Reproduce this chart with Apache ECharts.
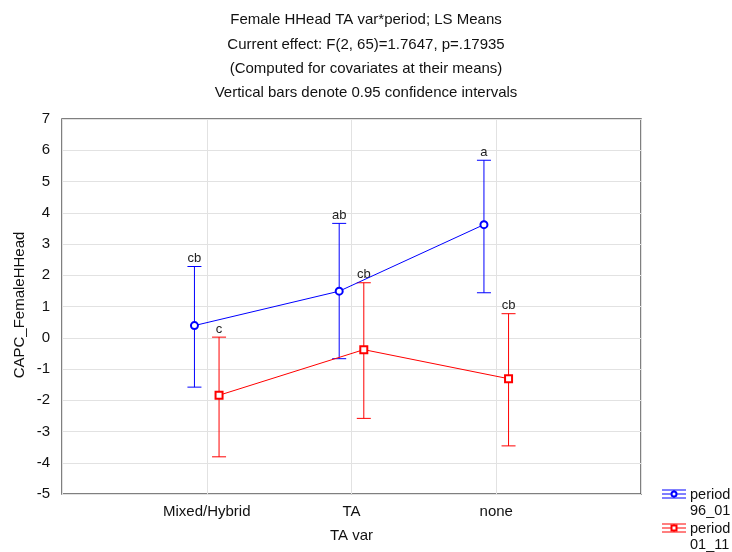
<!DOCTYPE html>
<html>
<head>
<meta charset="utf-8">
<script src="https://cdn.jsdelivr.net/npm/echarts@6/dist/echarts.min.js"></script>
<style>
  html, body { margin: 0; padding: 0; background: #fff; }
  #chart { width: 732px; height: 552px; }
</style>
</head>
<body>
<div id="chart"></div>
<script>
// TA var categories and y-axis ticks
var categories = ['Mixed/Hybrid', 'TA', 'none'];
var yTicks = [-5, -4, -3, -2, -1, 0, 1, 2, 3, 4, 5, 6, 7];
var yAxisTitle = 'CAPC_FemaleHHead';

// LS means with 0.95 confidence limits, period 96_01
var mean96 = [0.39, 1.49, 3.62];
var lower96 = [-1.58, -0.67, 1.44];
var upper96 = [2.28, 3.66, 5.68];
var letters96 = ['cb', 'ab', 'a'];

// LS means with 0.95 confidence limits, period 01_11
var mean01 = [-1.84, -0.38, -1.31];
var lower01 = [-3.81, -2.58, -3.46];
var upper01 = [0.02, 1.76, 0.77];
var letters01 = ['c', 'cb', 'cb'];

var BLUE = '#0000ff';
var RED = '#ff0000';
var FONT = 'Liberation Sans, Arial, sans-serif';
var DODGE = 0.085; // horizontal shift of each period around its category

function points(means, shift) {
  return means.map(function (v, i) { return [i + 1 + shift, v]; });
}
function bars(lows, highs, shift) {
  return lows.map(function (v, i) { return [i + 1 + shift, v, highs[i]]; });
}

function errorBarRenderer(color, letters) {
  return function (params, api) {
    var x = api.value(0);
    var lo = api.coord([x, api.value(1)]);
    var hi = api.coord([x, api.value(2)]);
    var half = 7;
    var style = { stroke: color, lineWidth: 1 };
    return {
      type: 'group',
      children: [
        { type: 'line', shape: { x1: lo[0], y1: lo[1], x2: hi[0], y2: hi[1] }, style: style },
        { type: 'line', shape: { x1: hi[0] - half, y1: hi[1], x2: hi[0] + half, y2: hi[1] }, style: style },
        { type: 'line', shape: { x1: lo[0] - half, y1: lo[1], x2: lo[0] + half, y2: lo[1] }, style: style },
        {
          type: 'text',
          style: {
            text: letters[params.dataIndex], x: hi[0], y: hi[1] - 8,
            align: 'center', verticalAlign: 'middle',
            font: '13px ' + FONT, fill: '#222'
          }
        }
      ]
    };
  };
}

function legendItem(y, color, symbol, line1, line2) {
  var x0 = 662, x1 = 686, cx = 674;
  var st = { stroke: color, lineWidth: 1 };
  var marker = symbol === 'circle'
    ? { type: 'circle', shape: { cx: cx, cy: y, r: 2.5 }, style: { fill: '#fff', stroke: color, lineWidth: 2 } }
    : { type: 'rect', shape: { x: cx - 2.5, y: y - 2.5, width: 5, height: 5 }, style: { fill: '#fff', stroke: color, lineWidth: 2 } };
  return {
    type: 'group',
    children: [
      { type: 'line', shape: { x1: x0, y1: y - 4, x2: x1, y2: y - 4 }, style: st },
      { type: 'line', shape: { x1: x0, y1: y, x2: x1, y2: y }, style: st },
      { type: 'line', shape: { x1: x0, y1: y + 4, x2: x1, y2: y + 4 }, style: st },
      { type: 'line', shape: { x1: cx, y1: y - 4, x2: cx, y2: y + 4 }, style: st },
      marker,
      { type: 'text', style: { text: line1 + '\n' + line2, x: 690, y: y - 7, font: '14.5px ' + FONT, fill: '#111', lineHeight: 16 } }
    ]
  };
}

var chart = echarts.init(document.getElementById('chart'));
chart.setOption({
  animation: false,
  backgroundColor: '#fff',
  title: {
    text: 'Female HHead TA var*period; LS Means\nCurrent effect: F(2, 65)=1.7647, p=.17935\n(Computed for covariates at their means)\nVertical bars denote 0.95 confidence intervals',
    left: 'center',
    top: 3,
    textStyle: { fontFamily: FONT, fontSize: 15, fontWeight: 'normal', color: '#111', lineHeight: 24.3, align: 'center' }
  },
  grid: {
    left: 62, right: 91, top: 119, bottom: 58,
    outerBoundsMode: 'none', containLabel: false,
    show: true, borderColor: '#555', borderWidth: 1.5, backgroundColor: 'transparent'
  },
  xAxis: {
    type: 'value', min: 0, max: 4, interval: 1,
    name: 'TA var', nameLocation: 'middle', nameGap: 34,
    nameTextStyle: { fontFamily: FONT, fontSize: 15, color: '#111' },
    axisLine: { show: false },
    axisTick: { show: false },
    axisLabel: {
      margin: 10, fontFamily: FONT, fontSize: 15, color: '#111',
      formatter: function (v) { return categories[v - 1] || ''; }
    },
    splitLine: { show: true, lineStyle: { color: '#e2e2e2', width: 1 } }
  },
  yAxis: {
    type: 'value', min: yTicks[0], max: yTicks[yTicks.length - 1], interval: 1,
    axisLine: { show: false },
    axisTick: { show: false },
    axisLabel: { margin: 12, fontFamily: FONT, fontSize: 15, color: '#111' },
    splitLine: { show: true, lineStyle: { color: '#e2e2e2', width: 1 } }
  },
  series: [
    {
      type: 'custom', name: 'period 96_01 CI',
      renderItem: errorBarRenderer(BLUE, letters96),
      data: bars(lower96, upper96, -DODGE), z: 2
    },
    {
      type: 'custom', name: 'period 01_11 CI',
      renderItem: errorBarRenderer(RED, letters01),
      data: bars(lower01, upper01, DODGE), z: 2
    },
    {
      type: 'line', name: 'period 96_01', data: points(mean96, -DODGE),
      symbol: 'circle', symbolSize: 7, showAllSymbol: true,
      lineStyle: { color: BLUE, width: 1 },
      itemStyle: { color: '#fff', borderColor: BLUE, borderWidth: 2 }, z: 3
    },
    {
      type: 'line', name: 'period 01_11', data: points(mean01, DODGE),
      symbol: 'rect', symbolSize: 7, showAllSymbol: true,
      lineStyle: { color: RED, width: 1 },
      itemStyle: { color: '#fff', borderColor: RED, borderWidth: 2 }, z: 3
    }
  ],
  graphic: [
    {
      type: 'text', x: 20, y: 305, rotation: Math.PI / 2,
      style: { text: yAxisTitle, align: 'center', verticalAlign: 'middle', font: '15px ' + FONT, fill: '#111' }
    },
    legendItem(494, BLUE, 'circle', 'period', '96_01'),
    legendItem(528, RED, 'rect', 'period', '01_11')
  ]
});
</script>
</body>
</html>
